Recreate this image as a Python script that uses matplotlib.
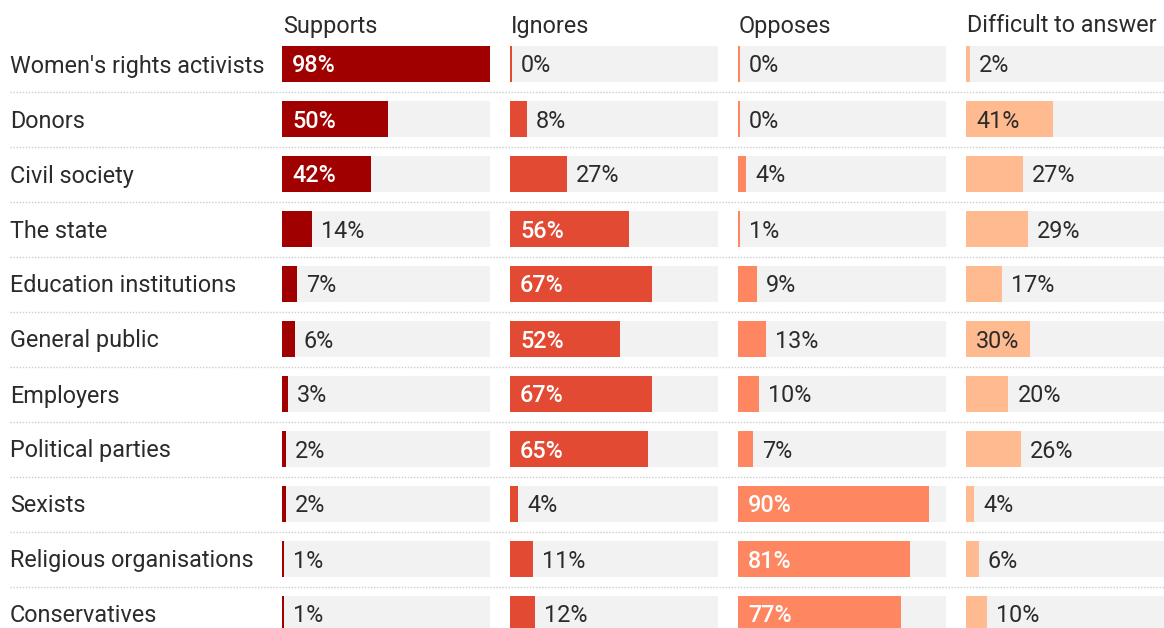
import matplotlib
matplotlib.use("Agg")
import matplotlib.pyplot as plt
from matplotlib.patches import Rectangle

plt.rcParams['font.family'] = ['Roboto', 'DejaVu Sans']

categories = [
    "Women's rights activists", "Donors", "Civil society", "The state",
    "Education institutions", "General public", "Employers",
    "Political parties", "Sexists", "Religious organisations", "Conservatives",
]
columns = ["Supports", "Ignores", "Opposes", "Difficult to answer"]
supports = [98, 50, 42, 14, 7, 6, 3, 2, 2, 1, 1]
ignores = [0, 8, 27, 56, 67, 52, 67, 65, 4, 11, 12]
opposes = [0, 0, 4, 1, 9, 13, 10, 7, 90, 81, 77]
difficult = [2, 41, 27, 29, 17, 30, 20, 26, 4, 6, 10]
series = [supports, ignores, opposes, difficult]

bar_colors = ["#a00000", "#e24a33", "#fe8661", "#ffbb8f"]
inside_text = ["white", "white", "white", "#2b2b2b"]
inside_weight = ["medium", "medium", "medium", "normal"]
panel_bg = "#f2f2f2"
text_dark = "#2b2b2b"
FS = 16.8

W, H = 1164, 628
DPI = 100
fig = plt.figure(figsize=(W / DPI, H / DPI), dpi=DPI)

n = len(categories)
row_h = 55
top_center = 64
y_top = top_center - row_h / 2
y_bot = y_top + n * row_h
ax_bottom = (H - y_bot) / H
ax_height = (y_bot - y_top) / H

panel_left = [282, 510, 738, 966]
panel_w = 208
vmax = max(max(s) for s in series)
px = vmax / panel_w  # data units per pixel
bar_h = 36 / row_h
dy = 2 / row_h  # nudge text down a little onto the bar centre

# full-width axes for row labels and separators
base = fig.add_axes([0, ax_bottom, 1, ax_height])
base.set_xlim(0, W)
base.set_ylim(n - 0.5, -0.5)
base.axis("off")
for i, cat in enumerate(categories):
    base.text(10, i + dy, cat, ha="left", va="center", fontsize=FS, color=text_dark)
for i in range(n - 1):
    base.plot([10, W], [i + 0.5, i + 0.5], color="#cccccc", lw=1,
              linestyle=(0, (1, 1.2)), solid_capstyle="butt")

for k, (col, vals) in enumerate(zip(columns, series)):
    ax = fig.add_axes([panel_left[k] / W, ax_bottom, panel_w / W, ax_height])
    ax.set_xlim(0, vmax)
    ax.set_ylim(n - 0.5, -0.5)
    ax.axis("off")
    for i, v in enumerate(vals):
        ax.add_patch(Rectangle((0, i - bar_h / 2), vmax, bar_h,
                               facecolor=panel_bg, edgecolor="none"))
        w = max(v, 1.6 * px)
        ax.barh(i, w, height=bar_h, color=bar_colors[k], edgecolor="none")
        label = f"{v}%"
        if v >= 30:
            ax.text(10 * px, i + dy, label, ha="left", va="center", fontsize=FS,
                    color=inside_text[k], fontweight=inside_weight[k])
        else:
            ax.text(w + 9 * px, i + dy, label, ha="left", va="center", fontsize=FS,
                    color=text_dark)
    fig.text((panel_left[k] + 1) / W, 1 - 26 / H, col, ha="left", va="center",
             fontsize=FS, color=text_dark)

fig.savefig("out.png", dpi=DPI, facecolor="white")
